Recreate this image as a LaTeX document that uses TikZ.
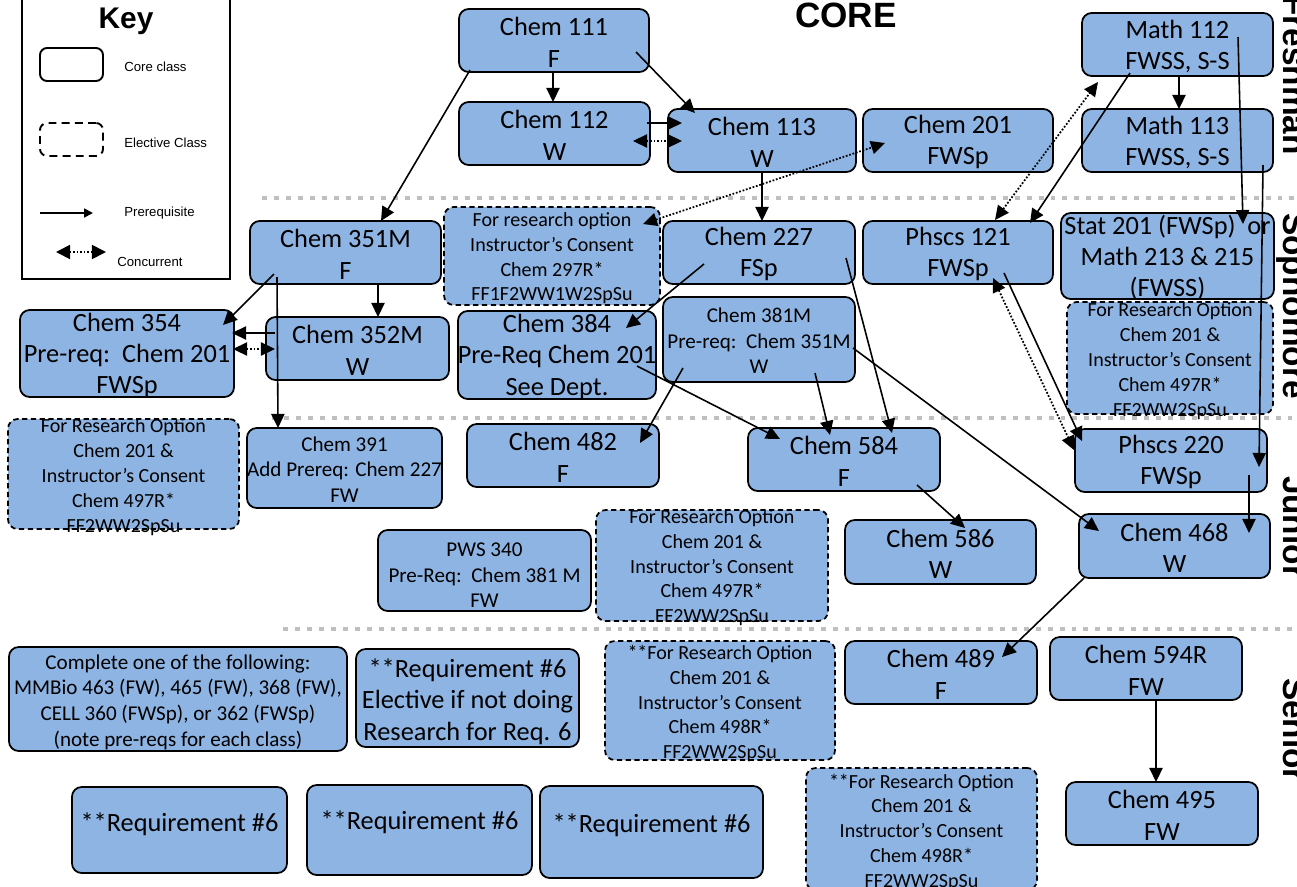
\documentclass[tikz,border=0pt]{standalone}
\usepackage{fontspec}
\setmainfont{Carlito}
\newfontfamily\arialf{Liberation Sans}
\usetikzlibrary{arrows.meta}
\definecolor{boxblue}{RGB}{142,180,227}
\definecolor{sepgray}{RGB}{191,191,191}
\tikzset{
  cbox/.style={draw=black, line width=1pt, fill=boxblue, rounded corners=5.5pt, inner sep=0pt, outer sep=0pt},
  ebox/.style={cbox, dash pattern=on 3pt off 2pt},
  kbox/.style={draw=black, line width=1.1pt, fill=white, rounded corners=4pt, inner sep=0pt, outer sep=0pt},
  kebox/.style={kbox, dash pattern=on 4.5pt off 3pt},
  tbig/.style={align=center, inner sep=0pt, yshift=-1pt, font=\fontsize{15}{17.8}\selectfont},
  tmid/.style={align=center, inner sep=0pt, yshift=-0.8pt, font=\fontsize{12}{14.6}\selectfont},
  tsm/.style={align=center, inner sep=0pt, yshift=-1.8pt, font=\fontsize{11.4}{14.1}\selectfont},
  keytext/.style={font=\arialf\fontsize{7.5}{9}\selectfont, inner sep=0pt, anchor=west},
  pre/.style={draw=black, line width=0.9pt, -{Triangle[length=8pt,width=7.5pt]}},
  conc/.style={draw=black, line width=1pt, dash pattern=on 1pt off 1pt, {Triangle[length=8pt,width=7.5pt]}-{Triangle[length=8pt,width=7.5pt]}},
  sep/.style={draw=sepgray, line width=2.8pt, dash pattern=on 2.8pt off 4pt},
  year/.style={font=\arialf\bfseries\fontsize{19}{22}\selectfont, rotate=-90, anchor=base, inner sep=0pt},
}
\newcommand\mybox[8]{%
  \node[#1, minimum width={(#5-#3)*0.02cm}, minimum height={(#6-#4)*0.02cm}] (#2) at ({(#3+#5)/2},{(#4+#6)/2}) {};
  \node[#7] at (#2.center) {#8};
}
\begin{document}
\begin{tikzpicture}[x=0.02cm,y=-0.02cm]
\useasboundingbox (0,0) rectangle (1297,886);
\clip (0,0) rectangle (1297,886);
\fill[white] (0,0) rectangle (1297,886);
% year separators
\draw[sep] (262,198) -- (1297,198);
\draw[sep] (272,418) -- (1297,418);
\draw[sep] (283,629) -- (1297,629);
% key
\draw[line width=1.5pt] (22,-5) rectangle (230,279);
\node[font=\arialf\bfseries\fontsize{17}{20}\selectfont, anchor=base, inner sep=0pt] (keytitle) at (126,28) {Key};
\mybox{kbox}{kcore}{40}{48}{103}{81}{keytext}{}
\mybox{kebox}{kelec}{40}{123}{103}{156}{keytext}{}
\node[keytext] (kl1) at (124,67) {Core class};
\node[keytext] (kl2) at (124,143) {Elective Class};
\node[keytext] (kl3) at (124,213) {Prerequisite};
\node[keytext] (kl4) at (117,262) {Concurrent};
\coordinate (kp1) at (40,213); \coordinate (kp2) at (93,213);
\draw[line width=1pt, -{Triangle[length=5pt,width=5pt]}] (kp1) -- (kp2);
\coordinate (kc1) at (56,252); \coordinate (kc2) at (106,252);
\draw[line width=1pt, dash pattern=on 1pt off 1pt, {Triangle[length=8pt,width=8pt]}-{Triangle[length=8pt,width=8pt]}] (kc1) -- (kc2);
% titles
\node[font=\arialf\bfseries\fontsize{20}{24}\selectfont, anchor=base, inner sep=0pt] (core) at (846,27) {CORE};
\node[year] (yfr) at (1283,75) {Freshman};
\node[year] (yso) at (1283,306) {Sophomore};
\node[year] (yju) at (1283,527) {Junior};
\node[year] (yse) at (1283,730) {Senior};
% boxes
\mybox{cbox}{c111}{459}{9}{649}{72}{tbig}{Chem 111\\F}
\mybox{cbox}{c112}{459}{102}{650}{165}{tbig}{Chem 112\\W}
\mybox{cbox}{c113}{668}{109}{856}{172}{tbig}{Chem 113\\W}
\mybox{cbox}{c201}{863}{109}{1053}{172}{tbig}{Chem 201\\FWSp}
\mybox{cbox}{m112}{1082}{13}{1273}{76}{tbig}{Math 112\\FWSS, S-S}
\mybox{cbox}{m113}{1082}{109}{1273}{172}{tbig}{Math 113\\FWSS, S-S}
\mybox{cbox}{c351}{250}{221}{441}{284}{tbig}{Chem 351M\\F}
\mybox{ebox}{r297}{444}{207}{660}{305}{tsm,yshift=0.5pt}{For research option\\Instructor’s Consent\\Chem 297R*\\FF1F2WW1W2SpSu}
\mybox{cbox}{c227}{663}{221}{855}{284}{tbig}{Chem 227\\FSp}
\mybox{cbox}{p121}{863}{221}{1053}{284}{tbig}{Phscs 121\\FWSp}
\mybox{cbox}{s201}{1061}{213}{1274}{299}{tbig}{Stat 201 (FWSp)\ \ or\\Math 213 \& 215\\(FWSS)}
\mybox{cbox}{c354}{20}{310}{234}{397}{tbig}{Chem 354\\Pre-req:\ \ Chem 201\\FWSp}
\mybox{cbox}{c352}{266}{317}{449}{380}{tbig}{Chem 352M\\W}
\mybox{cbox}{c384}{458}{311}{656}{399}{tbig}{Chem 384\\Pre-Req Chem 201\\See Dept.}
\mybox{cbox}{c381}{663}{297}{855}{382}{tmid}{Chem 381M\\Pre-req:\ \ Chem 351M\\W}
\mybox{ebox}{r497b}{1067}{302}{1273}{414}{tsm}{For Research Option\\Chem 201 \&\\Instructor’s Consent\\Chem 497R*\\FF2WW2SpSu}
\mybox{ebox}{r497a}{8}{419}{239}{529}{tsm}{For Research Option\\Chem 201 \&\\Instructor’s Consent\\Chem 497R*\\FF2WW2SpSu}
\mybox{cbox}{c391}{247}{428}{442}{508}{tmid}{Chem 391\\Add Prereq: Chem 227\\FW}
\mybox{cbox}{c482}{467}{424}{659}{487}{tbig}{Chem 482\\F}
\mybox{cbox}{c584}{748}{428}{940}{491}{tbig}{Chem 584\\F}
\mybox{cbox}{p220}{1075}{429}{1267}{492}{tbig}{Phscs 220\\FWSp}
\mybox{cbox}{c586}{845}{520}{1036}{584}{tbig}{Chem 586\\W}
\mybox{cbox}{c468}{1079}{514}{1270}{578}{tbig}{Chem 468\\W}
\mybox{cbox}{pws}{378}{530}{591}{611}{tmid,yshift=-2pt}{PWS 340\\Pre-Req:\ \ Chem 381 M\\FW}
\mybox{ebox}{r497c}{596}{510}{828}{621}{tsm,yshift=0.5pt}{For Research Option\\Chem 201 \&\\Instructor’s Consent\\Chem 497R*\\FF2WW2SpSu}
\mybox{cbox}{c489}{845}{641}{1037}{704}{tbig}{Chem 489\\F}
\mybox{cbox}{c594}{1050}{637}{1242}{700}{tbig}{Chem 594R\\FW}
\mybox{cbox}{c495}{1066}{782}{1258}{845}{tbig}{Chem 495\\FW}
\mybox{cbox}{compl}{9}{647}{347}{751}{tmid,yshift=-1pt}{Complete one of the following:\\MMBio 463 (FW), 465 (FW), 368 (FW),\\CELL 360 (FWSp), or 362 (FWSp)\\(note pre-reqs for each class)}
\mybox{cbox}{req6e}{356}{649}{579}{747}{tbig,yshift=-1pt}{**Requirement \#6\\Elective if not doing\\Research for Req. 6}
\mybox{ebox}{r498a}{605}{641}{835}{760}{tsm}{**For Research Option\\Chem 201 \&\\Instructor’s Consent\\Chem 498R*\\FF2WW2SpSu}
\mybox{cbox}{req6a}{72}{787}{287}{873}{tbig,yshift=4pt}{**Requirement \#6}
\mybox{cbox}{req6b}{307}{785}{532}{875}{tbig,yshift=5.5pt}{**Requirement \#6}
\mybox{cbox}{req6c}{540}{786}{763}{878}{tbig,yshift=5pt}{**Requirement \#6}
\mybox{ebox}{r498b}{806}{768}{1037}{890}{tsm}{**For Research Option\\Chem 201 \&\\Instructor’s Consent\\Chem 498R*\\FF2WW2SpSu}
% connectors
\draw[pre] ([shift={(94,63)}]c111.north west) -- ([shift={(94,0)}]c112.north west);
\draw[pre] ([shift={(177,43)}]c111.north west) -- ([shift={(27,4)}]c113.north west);
\draw[pre] ([shift={(188,21)}]c112.north west) -- ([shift={(14,14)}]c113.north west);
\draw[conc] ([shift={(174,39)}]c112.north west) -- ([shift={(14,32)}]c113.north west);
\draw[pre] ([shift={(94,63)}]c113.north west) -- ([shift={(99,0)}]c227.north west);
\draw[pre] ([shift={(11,61)}]c111.north west) -- ([shift={(131,0)}]c351.north west);
\draw[conc] ([shift={(199,17)}]r297.north west) -- ([shift={(22,34)}]c201.north west);
\draw[conc] ([shift={(132,-1)}]p121.north west) -- ([shift={(16,69)}]m112.north west);
\draw[pre] ([shift={(48,60)}]m112.north west) -- ([shift={(167,2)}]p121.north west);
\draw[pre] ([shift={(97,63)}]m112.north west) -- ([shift={(97,0)}]m113.north west);
\draw[pre] ([shift={(156,24)}]m112.north west) -- ([shift={(182,11)}]s201.north west);
\draw[pre] ([shift={(181,56)}]m113.north west) -- ([shift={(184,38)}]p220.north west);
\draw[pre] ([shift={(174,46)}]p220.north west) -- ([shift={(170,19)}]c468.north west);
\draw[pre] ([shift={(24,53)}]c351.north west) -- ([shift={(203,15)}]c354.north west);
\draw[pre] ([shift={(128,63)}]c351.north west) -- ([shift={(112,0)}]c352.north west);
\draw[pre] ([shift={(9,16)}]c352.north west) -- ([shift={(212,23)}]c354.north west);
\draw[conc] ([shift={(213,39)}]c354.north west) -- ([shift={(9,32)}]c352.north west);
\draw[pre] ([shift={(27,56)}]c351.north west) -- ([shift={(31,0)}]c391.north west);
\draw[pre] ([shift={(41,43)}]c227.north west) -- ([shift={(168,17)}]c384.north west);
\draw[pre] ([shift={(183,37)}]c227.north west) -- ([shift={(144,5)}]c584.north west);
\draw[pre] ([shift={(20,71)}]c381.north west) -- ([shift={(173,19)}]c482.north west);
\draw[pre] ([shift={(179,55)}]c384.north west) -- ([shift={(32,11)}]c584.north west);
\draw[pre] ([shift={(152,76)}]c381.north west) -- ([shift={(82,7)}]c584.north west);
\draw[pre] ([shift={(190,51)}]c381.north west) -- ([shift={(20,17)}]c468.north west);
\draw[pre] ([shift={(169,57)}]c584.north west) -- ([shift={(120,8)}]c586.north west);
\draw[pre] ([shift={(5,64)}]c468.north west) -- ([shift={(157,16)}]c489.north west);
\draw[pre] ([shift={(106,63)}]c594.north west) -- ([shift={(90,0)}]c495.north west);
\draw[pre] ([shift={(141,52)}]p121.north west) -- ([shift={(7,12)}]p220.north west);
\draw[conc] ([shift={(130,57)}]p121.north west) -- ([shift={(-1,21)}]p220.north west);
\end{tikzpicture}
\end{document}
